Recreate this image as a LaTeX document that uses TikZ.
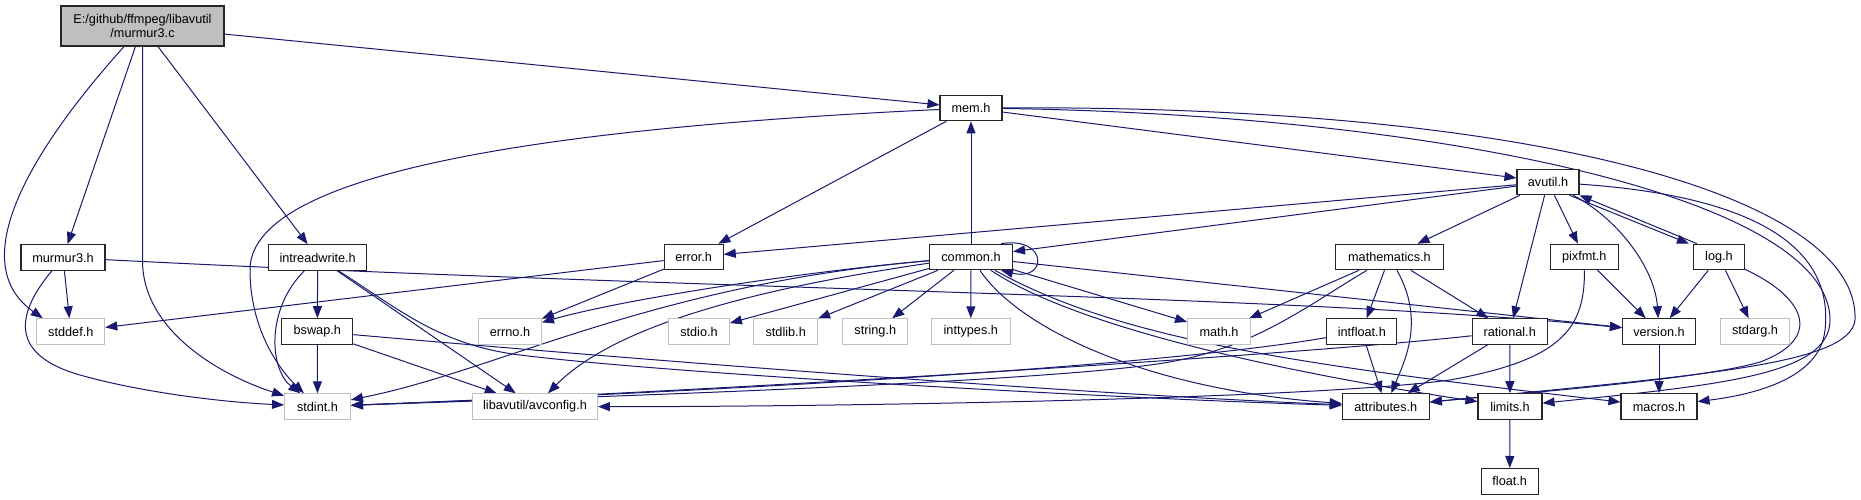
\documentclass[tikz,border=0pt]{standalone}
\usepackage{fontspec}
\setmainfont{Liberation Sans}
\usepackage{xcolor}
\usepackage{tikz}
\usetikzlibrary{arrows.meta}

\definecolor{edgeblue}{HTML}{191970}
\definecolor{extgray}{HTML}{BFBFBF}
\pgfdeclarelayer{background}
\pgfsetlayers{background,main}

\begin{document}
\begin{tikzpicture}[x=1pt,y=1pt,>={Triangle[length=12pt,width=9pt]},
	hdr/.style={draw=black!85,line width=1.1pt,fill=white,minimum height=25.5pt,inner sep=1pt,font=\fontsize{12.7}{14.5}\selectfont},
	ext/.style={hdr,draw=extgray,line width=0.9pt},
	rootbox/.style={hdr,fill=extgray,minimum height=40pt,align=center},
	dep/.style={->,draw=edgeblue,line width=1pt}]
			\useasboundingbox (0,0) rectangle (1861,-500);
			
			% top rows
			\node[rootbox,minimum width=163pt] (root) at (142.5,-26) {E:/github/ffmpeg/libavutil\\/murmur3.c};
			\node[hdr,minimum width=62pt] (mem) at (971,-108) {mem.h};
			\node[hdr,minimum width=62pt] (avutil) at (1548,-182) {avutil.h};
			
			\node[hdr,minimum width=84pt] (murmur3h) at (63,-257.5) {murmur3.h};
			\node[hdr,minimum width=98pt] (intreadwrite) at (317.7,-257.5) {intreadwrite.h};
			\node[hdr,minimum width=59pt] (error) at (693.7,-257) {error.h};
			\node[hdr,minimum width=83pt] (common) at (971,-257) {common.h};
			\node[hdr,minimum width=108pt] (mathematics) at (1389.4,-257) {mathematics.h};
			\node[hdr,minimum width=68pt] (pixfmt) at (1584.3,-257) {pixfmt.h};
			\node[hdr,minimum width=51pt] (log) at (1719,-257) {log.h};
			
			% third row
			\node[ext,minimum width=68pt] (stddef) at (70.8,-331.5) {stddef.h};
			\node[hdr,minimum width=71pt] (bswap) at (317.3,-331.5) {bswap.h};
			\node[ext,minimum width=63pt] (errno) at (510,-331.5) {errno.h};
			\node[ext,minimum width=61pt] (stdio) at (699,-331.5) {stdio.h};
			\node[ext,minimum width=64pt] (stdlib) at (785.7,-331.5) {stdlib.h};
			\node[ext,minimum width=65pt] (string) at (875.3,-331.5) {string.h};
			\node[ext,minimum width=79pt] (inttypes) at (970.8,-331.5) {inttypes.h};
			\node[ext,minimum width=63pt] (math) at (1219,-331.5) {math.h};
			\node[hdr,minimum width=70pt] (intfloat) at (1361.8,-331.5) {intfloat.h};
			\node[hdr,minimum width=75pt] (rational) at (1509.7,-331.5) {rational.h};
			\node[hdr,minimum width=73pt] (version) at (1659,-331.5) {version.h};
			\node[ext,minimum width=69pt] (stdarg) at (1755,-331.5) {stdarg.h};
			
			% bottom rows
			\node[ext,minimum width=66pt] (stdint) at (317.5,-406.5) {stdint.h};
			\node[ext,minimum width=125pt] (avconfig) at (535,-406.5) {libavutil/avconfig.h};
			\node[hdr,minimum width=87pt] (attributes) at (1385.8,-406.5) {attributes.h};
			\node[hdr,minimum width=64pt] (limits) at (1510,-406.5) {limits.h};
			\node[hdr,minimum width=76pt] (macros) at (1659,-406.5) {macros.h};
			\node[hdr,minimum width=57pt] (float) at (1509.7,-481.3) {float.h};
			
			\begin{pgfonlayer}{background}
			% murmur3.c
			\draw[dep] (root) -- (mem);
			\draw[dep] (root) .. controls (40,-140) and (-40,-260) .. ([xshift=-28pt]stddef.north);
			\draw[dep] (root) -- (murmur3h);
			\draw[dep] (root.south) -- ++(0,-214) .. controls +(0,-70) and (220,-375) .. (stdint);
			\draw[dep] (root) -- (intreadwrite);
			% murmur3.h
			\draw[dep] (murmur3h) -- (stddef);
			\draw[dep] (murmur3h) .. controls (15,-315) and (10,-355) .. (80,-375) .. controls (140,-392) and (220,-402) .. (stdint);
			\draw[dep] (murmur3h) .. controls (700,-290) and (1300,-295) .. (version);
			% intreadwrite.h, bswap.h
			\draw[dep] (intreadwrite) -- (bswap);
			\draw[dep] (intreadwrite) .. controls (265,-310) and (270,-370) .. (stdint);
			\draw[dep] (intreadwrite) -- (avconfig);
			\draw[dep] (intreadwrite) .. controls (400,-310) and (440,-345) .. (520,-355) .. controls (680,-375) and (1150,-400) .. (attributes);
			\draw[dep] (bswap) -- (stdint);
			\draw[dep] (bswap) -- (avconfig);
			\draw[dep] (bswap) .. controls (700,-365) and (1100,-395) .. (attributes);
			% mem.h
			\draw[dep] (mem) -- (error);
			\draw[dep] (mem) .. controls (500,-130) and (250,-180) .. (250,-270) .. controls (250,-330) and (280,-370) .. (stdint);
			\draw[dep] (mem) -- (avutil);
			\draw[dep] (mem) .. controls (1550,-105) and (1860,-200) .. (1855,-320) .. controls (1850,-365) and (1700,-375) .. (attributes);
			\draw[dep] (mem) .. controls (1450,-115) and (1830,-200) .. (1830,-320) .. controls (1830,-375) and (1720,-385) .. (limits);
			% common.h
			\draw[dep] (common) -- (mem);
			\draw[dep] ([xshift=-12pt]common.north east) .. controls (1048,-236) and (1048,-282) .. ([xshift=-12pt]common.south east);
			\draw[dep] (common) .. controls (800,-272) and (620,-300) .. (errno);
			\draw[dep] (common) .. controls (650,-285) and (500,-370) .. (stdint);
			\draw[dep] (common) .. controls (780,-285) and (620,-320) .. (avconfig);
			\draw[dep] (common) -- (stdio);
			\draw[dep] (common) -- (stdlib);
			\draw[dep] (common) -- (string);
			\draw[dep] (common) -- (inttypes);
			\draw[dep] (common) -- (math);
			\draw[dep] (common) -- (version);
			\draw[dep] (common) .. controls (1020,-330) and (1150,-390) .. (attributes);
			\draw[dep] (common) .. controls (1080,-330) and (1300,-375) .. (limits);
			\draw[dep] (common) .. controls (1120,-340) and (1300,-365) .. (macros);
			% avutil.h
			\draw[dep] (avutil) -- (error);
			\draw[dep] (avutil) -- (common);
			\draw[dep] (avutil) -- (mathematics);
			\draw[dep] (avutil) -- (rational);
			\draw[dep] (avutil) -- (pixfmt);
			\draw[dep] ([xshift=-10pt]avutil.south east) -- ([xshift=-4pt]log.north west);
			\draw[dep] (avutil) .. controls (1620,-220) and (1655,-270) .. (version);
			\draw[dep] (avutil) .. controls (1740,-195) and (1835,-240) .. (1825,-330) .. controls (1820,-380) and (1750,-395) .. (macros);
			% mathematics.h, intfloat.h, rational.h
			\draw[dep] (mathematics) -- (math);
			\draw[dep] (mathematics) .. controls (1300,-310) and (1250,-352) .. (1150,-365) .. controls (1000,-385) and (500,-400) .. (stdint);
			\draw[dep] (mathematics) -- (intfloat);
			\draw[dep] (mathematics) .. controls (1425,-320) and (1405,-360) .. (attributes);
			\draw[dep] (mathematics) -- (rational);
			\draw[dep] (intfloat) .. controls (1150,-368) and (700,-392) .. (stdint);
			\draw[dep] (intfloat) -- (attributes);
			\draw[dep] (rational) .. controls (1300,-355) and (700,-392) .. (stdint);
			\draw[dep] (rational) -- (attributes);
			\draw[dep] (rational) -- (limits);
			% pixfmt.h, log.h
			\draw[dep] (pixfmt) -- (version);
			\draw[dep] (pixfmt) .. controls (1585,-330) and (1560,-360) .. (1450,-380) .. controls (1300,-400) and (800,-407) .. (avconfig);
			\draw[dep] ([xshift=4pt]log.north west) -- (avutil.south east);
			\draw[dep] (log) -- (version);
			\draw[dep] (log) -- (stdarg);
			\draw[dep] (log) .. controls (1810,-300) and (1820,-340) .. (1760,-362) .. controls (1700,-380) and (1500,-395) .. (attributes);
			% the rest
			\draw[dep] (version) -- (macros);
			\draw[dep] (limits) -- (float);
			\draw[dep] (error) -- (errno);
			\draw[dep] (error) -- (stddef);
			\end{pgfonlayer}
		\end{tikzpicture}
\end{document}
